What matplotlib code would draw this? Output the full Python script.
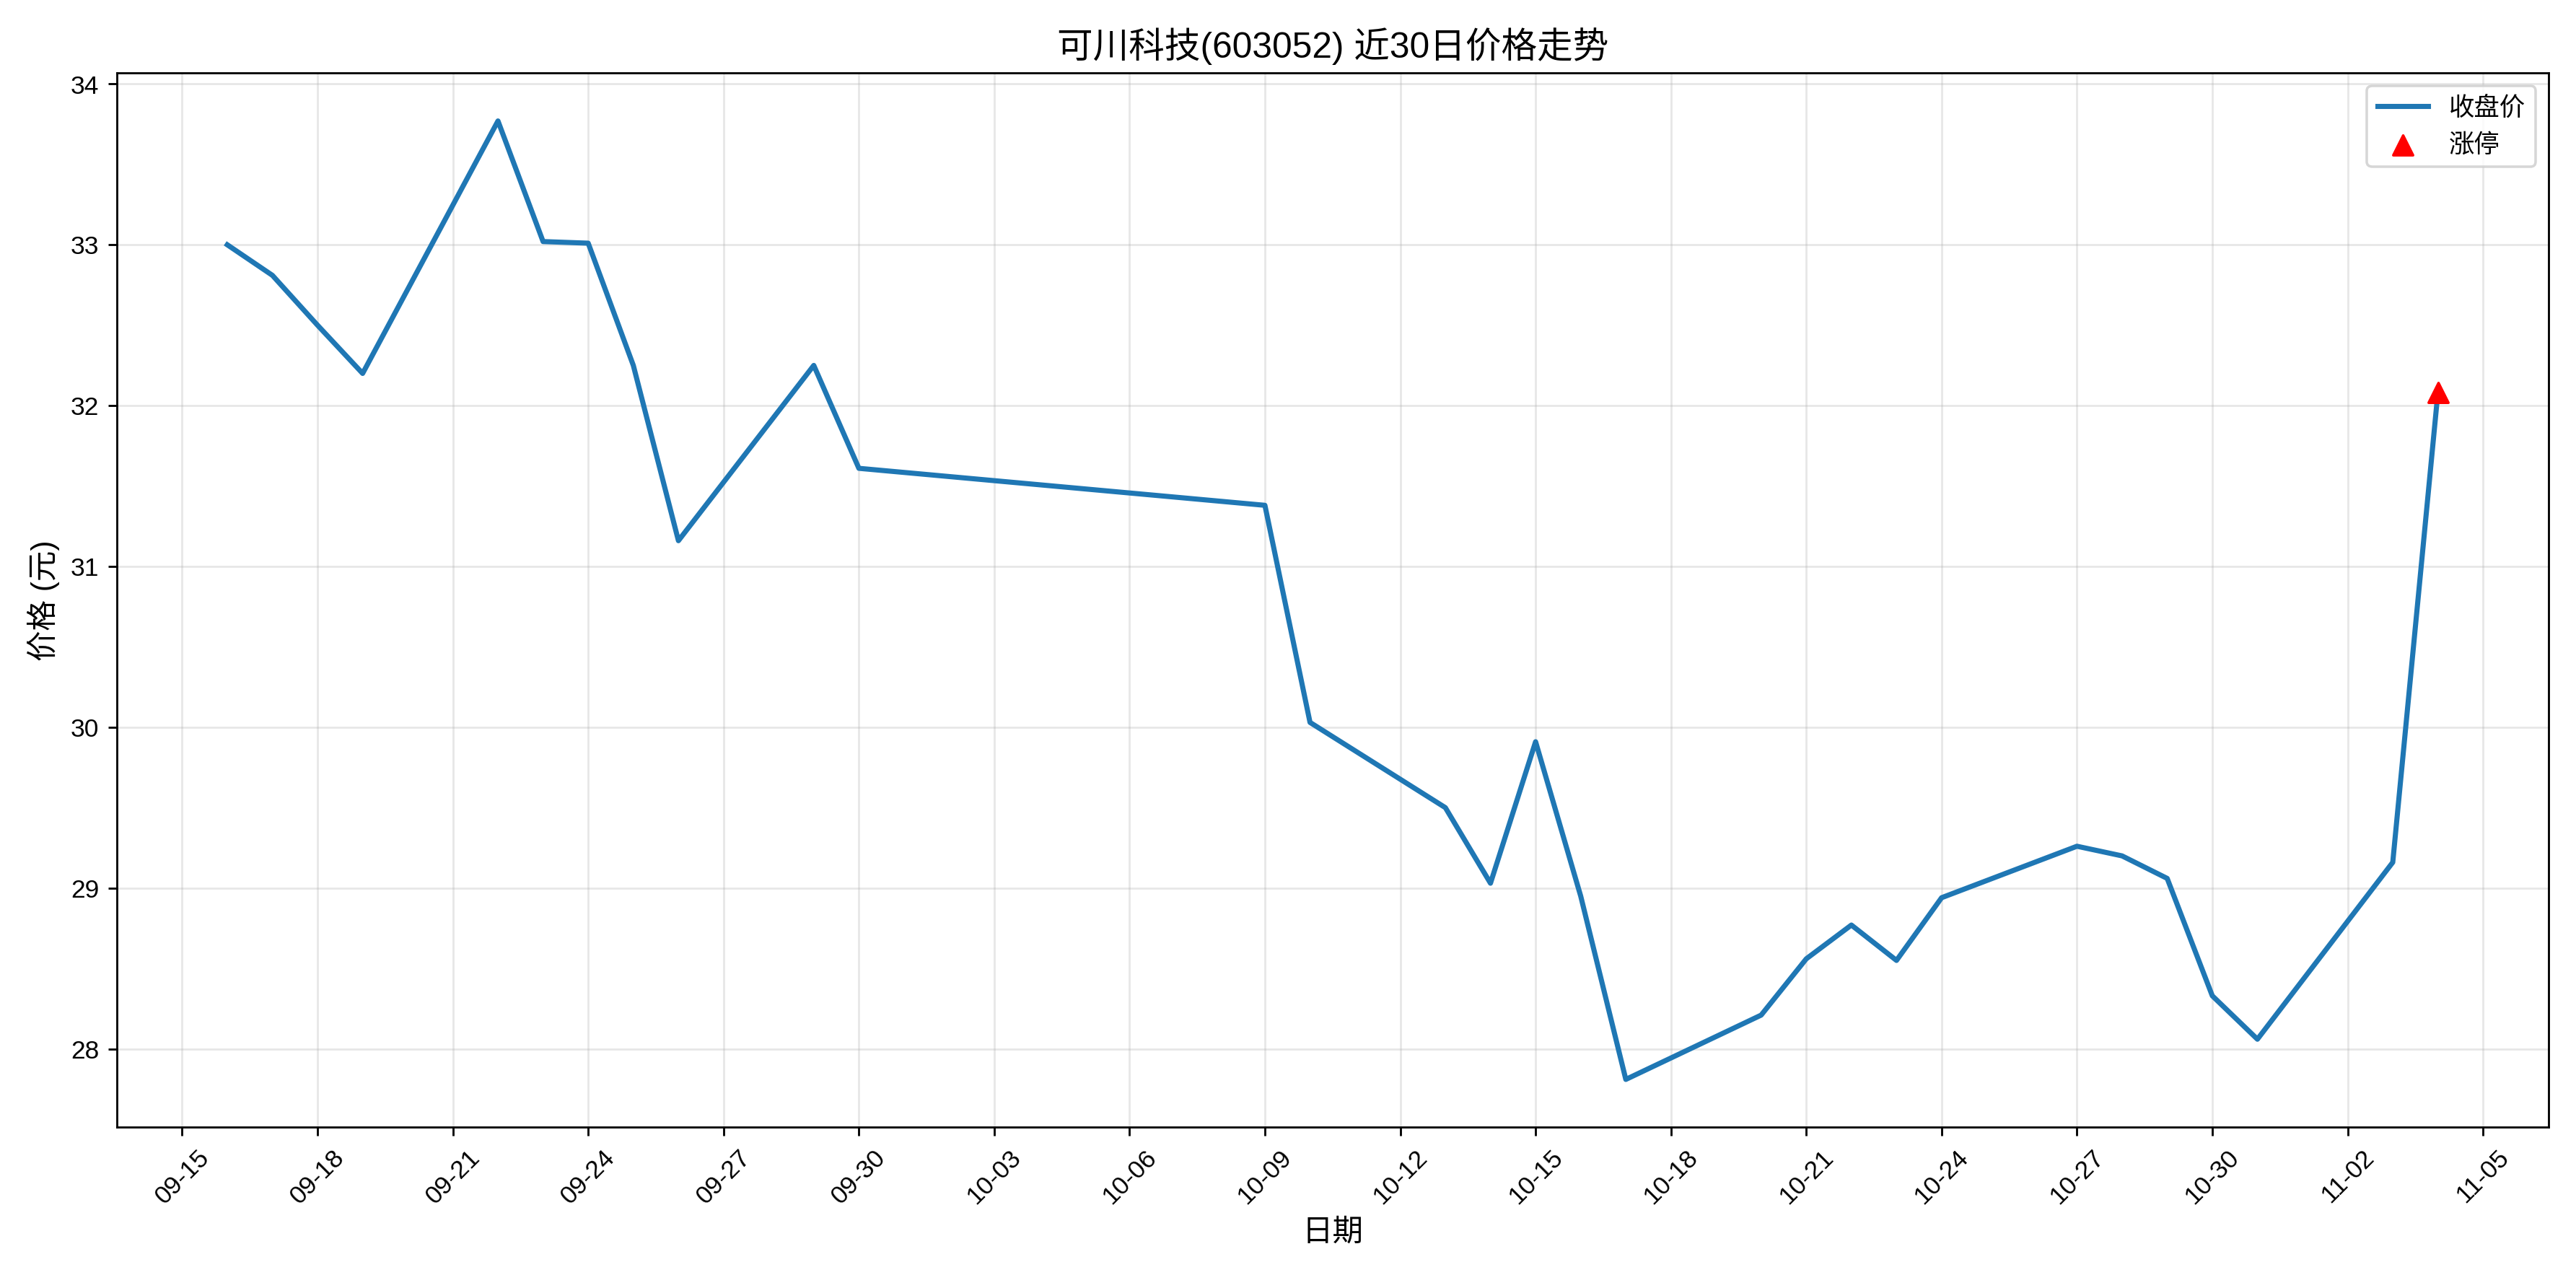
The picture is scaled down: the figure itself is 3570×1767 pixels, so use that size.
import matplotlib
matplotlib.use('Agg')
import matplotlib.pyplot as plt
import matplotlib.dates as mdates
import pandas as pd

plt.rcParams['font.family'] = ['Liberation Sans', 'Noto Sans CJK SC', 'DejaVu Sans']
plt.rcParams['axes.unicode_minus'] = False

dates = ['2025-09-16', '2025-09-17', '2025-09-18', '2025-09-19', '2025-09-22', '2025-09-23',
         '2025-09-24', '2025-09-25', '2025-09-26', '2025-09-29', '2025-09-30', '2025-10-09',
         '2025-10-10', '2025-10-13', '2025-10-14', '2025-10-15', '2025-10-16', '2025-10-17',
         '2025-10-20', '2025-10-21', '2025-10-22', '2025-10-23', '2025-10-24', '2025-10-27',
         '2025-10-28', '2025-10-29', '2025-10-30', '2025-10-31', '2025-11-03', '2025-11-04']
close = [33.00, 32.81, 32.50, 32.20, 33.77, 33.02, 33.01, 32.25, 31.16, 32.25, 31.61, 31.38,
         30.03, 29.50, 29.03, 29.91, 28.95, 27.81, 28.21, 28.56, 28.77, 28.55, 28.94, 29.26,
         29.20, 29.06, 28.33, 28.06, 29.16, 32.08]
limit_up_dates = ['2025-11-04']
limit_up_prices = [32.08]

d = pd.to_datetime(dates)
fig, ax = plt.subplots(figsize=(14, 6.93), dpi=255)
ax.plot(d, close, color='#1f77b4', linewidth=2, label='收盘价')
ax.scatter(pd.to_datetime(limit_up_dates), limit_up_prices, color='red', marker='^', s=60,
           zorder=5, label='涨停')
ax.set_title('可川科技(603052) 近30日价格走势', fontsize=14)
ax.set_xlabel('日期', fontsize=12)
ax.set_ylabel('价格 (元)', fontsize=12)
ax.xaxis.set_major_locator(mdates.DayLocator(interval=3))
ax.xaxis.set_major_formatter(mdates.DateFormatter('%m-%d'))
plt.setp(ax.get_xticklabels(), rotation=45)
ax.grid(True, alpha=0.3)
ax.legend(loc='upper right')
fig.tight_layout()
fig.savefig('out.png', dpi=255)
